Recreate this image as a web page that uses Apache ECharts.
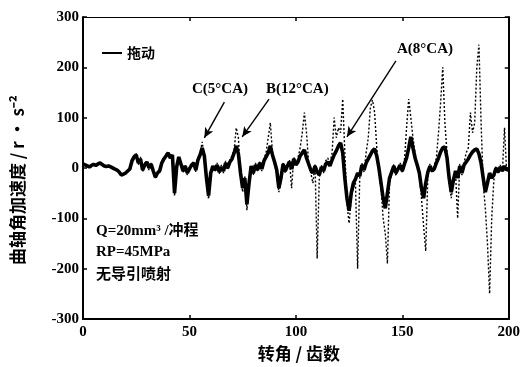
<!DOCTYPE html>
<html>
<head>
<meta charset="utf-8">
<script src="https://cdn.jsdelivr.net/npm/echarts@6/dist/echarts.min.js"></script>
<style>
  html, body { margin: 0; padding: 0; background: #fff; }
  #chart { width: 523px; height: 367px; }
</style>
</head>
<body>
<div id="chart"></div>
<script>
// x axis: tooth count 0..200, one sample per tooth
const teeth = Array.from({ length: 201 }, (_, i) => i)

// solid line (拖动)
const dragValues = [
  8, 6, 4, 2, 5, 7, 5, 8, 10, 7,
  4, 3, 4, 2, 0, -2, -4, -8, -14, -12,
  -10, -6, -2, 14, 22, 26, 10, 18, -4, 6,
  12, 0, 8, -6, -18, -10, -6, 10, 18, 24,
  30, 20, 26, -50, 2, 22, 8, -6, 4, -10,
  -2, 6, 10, -4, 16, 26, 40, 24, -20, -55,
  -10, 4, -4, 6, -8, 2, -6, 10, 0, 12,
  18, 30, 44, 28, -10, -40, -20, -72, -30, 4,
  -10, 6, -4, 10, -2, 14, 22, 30, 44, 26,
  12, -4, -40, -20, 8, -6, 4, 12, -2, 18,
  6, 12, 24, 30, 36, 20, 8, -4, -10, 4,
  -8, -14, 2, -6, 8, 12, 4, 16, 26, 34,
  44, 50, 30, -20, -60, -85, -50, -30, -22, -10,
  -16, 6, -4, 10, 18, 26, 34, 38, 24, 0,
  -30, -60, -80, -50, -20, -8, 4, -10, -2, 6,
  -6, 8, 20, 40, 62, 40, 20, 6, -10, -40,
  -60, -30, -8, 4, -6, -2, 10, 20, 32, 40,
  42, 20, -20, -48, -24, -6, -20, 4, -10, 6,
  12, 18, 26, 32, 36, 38, 28, 10, -20, -48,
  -30, -10, -20, -14, 0, -8, 2, -6, 4, -4,
  -2
]

// dotted line (injection)
const injectValues = [
  8, 7, 5, 3, 5, 8, 6, 9, 11, 6,
  5, 4, 3, 1, -1, -3, -5, -9, -15, -11,
  -9, -4, 0, 20, 18, 30, 6, 22, -8, 10,
  8, -4, 10, -10, -20, -6, -10, 14, 14, 28,
  26, 24, 20, -56, 6, 18, 12, -10, 6, -14,
  2, 2, 14, -8, 20, 30, 52, 20, -24, -62,
  -6, 0, -8, 10, -12, 6, -10, 14, -4, 16,
  24, 36, 80, 60, -14, -48, -16, -84, -24, 0,
  -14, 10, -6, 14, -6, 18, 30, 60, 90, 30,
  8, -10, -48, -24, 12, -10, 8, 16, -40, 22,
  6, 20, 40, 70, 110, 70, 10, -10, -30, 8,
  -180, -20, 6, -10, 14, 20, 8, 30, 100, 60,
  80, 70, 137, 30, -70, -110, -60, -40, -30, -200,
  -20, 10, -8, 30, 60, 120, 135, 110, 40, -10,
  -40, -100, -130, -190, -30, -14, 8, -16, 2, 10,
  -10, 14, 80, 137, 100, 60, 30, 10, -14, -60,
  -115, -165, -14, 8, -10, 4, 20, 70, 130, 200,
  90, 30, -30, -60, -30, -10, -100, 8, -14, 10,
  30, 40, 110, 70, 90, 200, 245, 90, -30, -80,
  -150, -250, -100, -24, 4, -12, 6, -8, 80, -6,
  0
]

// arrows: [from, to] in data units
const arrowC = [[66.4, 131], [57, 60]]
const arrowB = [[87.4, 137], [74.8, 62]]
const arrowA = [[147, 213], [124, 62]]

const serif = '"Liberation Serif", "DejaVu Serif", serif'
const cjk = '"Noto Sans CJK SC", sans-serif'

const chart = echarts.init(document.getElementById('chart'))

const axisText = {
  color: '#000',
  fontFamily: serif,
  fontWeight: 'bold',
  fontSize: 15,
}

// frame axes: shared look for the four sides
function frameAxis(extra, width) {
  return Object.assign({
    type: 'value',
    axisLine: { show: true, onZero: false, lineStyle: { color: '#000', width: width } },
    axisTick: { show: true, inside: true, length: 4, lineStyle: { color: '#000', width: 1.5 } },
    splitLine: { show: false },
  }, extra)
}

const option = {
  animation: false,
  backgroundColor: '#fff',
  color: ['#000', '#000'],
  grid: { left: 83, right: 12, top: 17, bottom: 47 },
  legend: {
    data: [{ name: '拖动', icon: 'rect', itemStyle: { color: '#000' } }],
    left: 97,
    top: 41,
    itemWidth: 20,
    itemHeight: 2,
    itemGap: 6,
    textStyle: { color: '#000', fontFamily: cjk, fontWeight: 'bold', fontSize: 14 },
  },
  xAxis: [
    frameAxis({
      min: 0,
      max: 200,
      interval: 50,
      name: '转角 / 齿数',
      nameLocation: 'middle',
      nameGap: 26,
      nameTextStyle: { color: '#000', fontFamily: cjk, fontWeight: 'bold', fontSize: 17, padding: [0, 0, 0, 6] },
      axisLabel: Object.assign({ margin: 6 }, axisText),
    }, 2),
    frameAxis({
      position: 'top',
      min: 0,
      max: 200,
      interval: 50,
      axisLabel: { show: false },
    }, 1.2),
  ],
  yAxis: [
    frameAxis({
      min: -300,
      max: 300,
      interval: 100,
      name: '曲轴角加速度 / r · s⁻²',
      nameLocation: 'middle',
      nameRotate: 90,
      nameGap: 57,
      nameTextStyle: { color: '#000', fontFamily: cjk, fontWeight: 'bold', fontSize: 17, padding: [0, 24, 0, 0] },
      axisLabel: Object.assign({ margin: 4 }, axisText),
    }, 2),
    frameAxis({
      position: 'right',
      min: -300,
      max: 300,
      interval: 100,
      axisLabel: { show: false },
    }, 2),
  ],
  series: [
    {
      name: '喷射',
      type: 'line',
      data: teeth.map((x, i) => [x, injectValues[i]]),
      showSymbol: false,
      lineStyle: { color: '#000', width: 1.4, type: [2, 2] },
      markLine: {
        silent: true,
        symbol: ['none', 'arrow'],
        symbolSize: [7, 10],
        label: { show: false },
        lineStyle: { color: '#000', width: 1.4, type: 'solid' },
        data: [
          [{ coord: arrowC[0] }, { coord: arrowC[1] }],
          [{ coord: arrowB[0] }, { coord: arrowB[1] }],
          [{ coord: arrowA[0] }, { coord: arrowA[1] }],
        ],
      },
      z: 2,
    },
    {
      name: '拖动',
      type: 'line',
      data: teeth.map((x, i) => [x, dragValues[i]]),
      showSymbol: false,
      itemStyle: { color: '#000' },
      lineStyle: { color: '#000', width: 3.6 },
      z: 3,
    },
  ],
  graphic: [
    { type: 'text', left: 192, top: 82, style: { text: 'C(5°CA)', font: 'bold 15px ' + serif, fill: '#000' } },
    { type: 'text', left: 266, top: 82, style: { text: 'B(12°CA)', font: 'bold 15px ' + serif, fill: '#000' } },
    { type: 'text', left: 397, top: 42, style: { text: 'A(8°CA)', font: 'bold 15px ' + serif, fill: '#000' } },
    { type: 'text', left: 96, top: 224, style: { text: 'Q=20mm³ /冲程', font: 'bold 15px ' + serif + ', ' + cjk, fill: '#000' } },
    { type: 'text', left: 96, top: 245, style: { text: 'RP=45MPa', font: 'bold 15px ' + serif, fill: '#000' } },
    { type: 'text', left: 96, top: 266, style: { text: '无导引喷射', font: 'bold 15px ' + cjk, fill: '#000' } },
  ],
}

chart.setOption(option)
</script>
</body>
</html>
